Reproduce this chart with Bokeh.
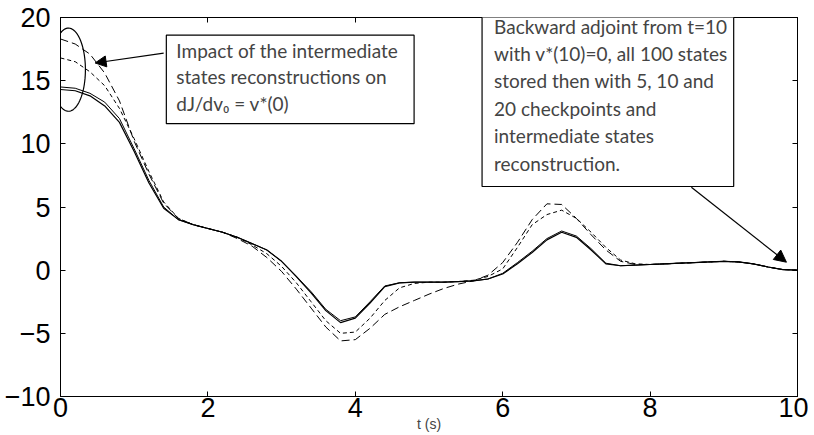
import numpy as np
from bokeh.plotting import figure
from bokeh.models import (Range1d, LinearAxis, Label, Arrow, NormalHead,
                          PolyAnnotation, FixedTicker, ColumnDataSource,
                          CustomJSTickFormatter)
from bokeh.embed import file_html
from bokeh.resources import INLINE

# ---------------- data ----------------
t = [0.0, 0.2, 0.4, 0.6, 0.8, 1.0, 1.2, 1.4, 1.6, 1.8,
     2.0, 2.2, 2.4, 2.6, 2.8, 3.0, 3.2, 3.4, 3.6, 3.8,
     4.0, 4.2, 4.4, 4.6, 4.8, 5.0, 5.2, 5.4, 5.6, 5.8,
     6.0, 6.2, 6.4, 6.6, 6.8, 7.0, 7.2, 7.4, 7.6, 7.8,
     8.0, 8.2, 8.4, 8.6, 8.8, 9.0, 9.2, 9.4, 9.6, 9.8, 10.0]

# all 100 states stored (solid)
v_all = [14.3, 14.2, 13.8, 13.0, 11.7, 9.4, 6.9, 4.9, 4.0, 3.6,
         3.3, 3.0, 2.6, 2.1, 1.6, 0.7, -0.5, -1.8, -3.2, -4.15,
         -3.8, -2.6, -1.3, -1.0, -0.95, -0.95, -0.95, -0.9, -0.85, -0.7,
         -0.3, 0.5, 1.4, 2.4, 3.0, 2.6, 1.6, 0.5, 0.35, 0.4,
         0.45, 0.5, 0.55, 0.6, 0.65, 0.7, 0.65, 0.5, 0.25, 0.05, 0.0]

# 20 checkpoints (solid)
v_20 = [14.5, 14.4, 14.0, 13.3, 12.0, 9.6, 7.1, 5.0, 4.0, 3.6,
        3.3, 3.0, 2.6, 2.1, 1.6, 0.7, -0.5, -1.7, -3.1, -4.0,
        -3.7, -2.5, -1.25, -1.0, -0.95, -0.95, -0.95, -0.9, -0.85, -0.7,
        -0.25, 0.6, 1.5, 2.5, 3.1, 2.7, 1.7, 0.55, 0.35, 0.4,
        0.45, 0.5, 0.55, 0.6, 0.65, 0.7, 0.65, 0.5, 0.25, 0.05, 0.0]

# 10 checkpoints (short dashes)
v_10 = [16.8, 16.5, 15.7, 14.6, 12.8, 10.4, 7.8, 5.4, 4.1, 3.6,
        3.3, 3.0, 2.6, 2.0, 1.3, 0.3, -1.0, -2.5, -4.0, -5.0,
        -4.9, -3.8, -2.4, -1.4, -1.05, -0.95, -0.95, -0.9, -0.8, -0.5,
        0.1, 1.8, 3.6, 4.4, 4.75, 4.1, 3.0, 1.8, 0.8, 0.5,
        0.45, 0.5, 0.55, 0.6, 0.65, 0.7, 0.65, 0.5, 0.25, 0.05, 0.0]

# 5 checkpoints (long dashes)
v_5 = [18.3, 17.9, 17.1, 15.6, 13.4, 10.2, 7.6, 5.3, 4.1, 3.6,
       3.3, 3.0, 2.5, 1.9, 1.0, -0.1, -1.5, -3.0, -4.5, -5.6,
       -5.5, -4.6, -3.5, -2.9, -2.4, -1.9, -1.45, -1.1, -0.85, -0.4,
       0.6, 2.2, 4.0, 5.25, 5.2, 4.1, 2.8, 1.6, 0.7, 0.45,
       0.45, 0.5, 0.55, 0.6, 0.65, 0.7, 0.65, 0.5, 0.25, 0.05, 0.0]

x_ticks = [0, 2, 4, 6, 8, 10]
y_ticks = [-10, -5, 0, 5, 10, 15, 20]
x_title = "t (s)"

note_left = "Impact of the intermediate\nstates reconstructions on\ndJ/dv\u2080 = v*(0)"
note_right = ("Backward adjoint from t=10\nwith v*(10)=0, all 100 states\n"
              "stored then with 5, 10 and\n20 checkpoints and\n"
              "intermediate states\nreconstruction.")

# ---------------- figure ----------------
p = figure(width=808, height=434, x_range=Range1d(0, 10), y_range=Range1d(-10, 20),
           output_backend="svg", toolbar_location=None,
           min_border_left=60, min_border_right=11, min_border_top=17,
           min_border_bottom=38)
p.grid.visible = False
p.outline_line_color = "black"
p.background_fill_color = "white"
p.border_fill_color = "white"

src = ColumnDataSource(dict(t=t, a=v_all, b=v_20, c=v_10, d=v_5))
p.line("t", "a", source=src, line_color="black", line_width=1.2)
p.line("t", "b", source=src, line_color="black", line_width=1.0)
p.line("t", "c", source=src, line_color="black", line_width=1.0, line_dash="4 3")
p.line("t", "d", source=src, line_color="black", line_width=1.0, line_dash="8 4")

FONT = "Liberation Sans"
for ax in (p.xaxis[0], p.yaxis[0]):
    ax.major_tick_in = 5
    ax.major_tick_out = 0
    ax.minor_tick_line_color = None
    ax.major_label_text_font = FONT
    ax.major_label_text_font_size = "27px"
    ax.major_label_text_color = "black"
    ax.axis_line_color = "black"
    ax.major_tick_line_color = "black"
p.xaxis.ticker = FixedTicker(ticks=x_ticks)
p.yaxis.ticker = FixedTicker(ticks=y_ticks)
p.xaxis.major_label_standoff = 1
p.yaxis.major_label_standoff = 10
p.xaxis.axis_label = x_title
p.xaxis.axis_label_text_font = FONT
p.xaxis.axis_label_text_font_size = "14px"
p.xaxis.axis_label_text_font_style = "normal"
p.xaxis.axis_label_standoff = -4

for loc, tk in (("above", x_ticks), ("right", y_ticks)):
    ax = LinearAxis(ticker=FixedTicker(ticks=tk),
                    formatter=CustomJSTickFormatter(code="return ''"))
    ax.major_tick_in = 5
    ax.major_tick_out = 0
    ax.minor_tick_line_color = None
    ax.major_label_standoff = 0
    ax.axis_line_color = "black"
    p.add_layout(ax, loc)

# ellipse around the initial values
th = np.linspace(0, 2 * np.pi, 90)
ell = PolyAnnotation(xs=list(0.108 + 0.23 * np.cos(th)), ys=list(15.87 + 3.29 * np.sin(th)),
                     fill_color=None, fill_alpha=0, line_color="black", line_alpha=1.0,
                     line_width=1.2)
p.add_layout(ell)

# annotation boxes
lab1 = Label(x=1.436, y=18.6, text=note_left, text_font="Lato", text_font_size="19px",
             text_align="left", text_baseline="top", text_line_height=1.14,
             background_fill_color="white", border_line_color="black", border_line_width=1.2,
             padding=dict(left=10, right=16, top=4, bottom=9))
p.add_layout(lab1)
lab2 = Label(x=5.72, y=20.7, text=note_right, text_font="Lato", text_font_size="19px",
             text_align="left", text_baseline="top", text_line_height=1.19,
             background_fill_color="white", border_line_color="black", border_line_width=1.2,
             padding=dict(left=12, right=6, top=6, bottom=12))
p.add_layout(lab2)

p.add_layout(Arrow(end=NormalHead(size=11, fill_color="black", line_color="black"),
                   x_start=1.40, y_start=17.18, x_end=0.47, y_end=16.4,
                   line_color="black", line_width=1.2))
p.add_layout(Arrow(end=NormalHead(size=12, fill_color="black", line_color="black"),
                   x_start=8.56, y_start=6.57, x_end=9.85, y_end=0.63,
                   line_color="black", line_width=1.2))

open("out.html", "w").write(file_html(p, INLINE))
